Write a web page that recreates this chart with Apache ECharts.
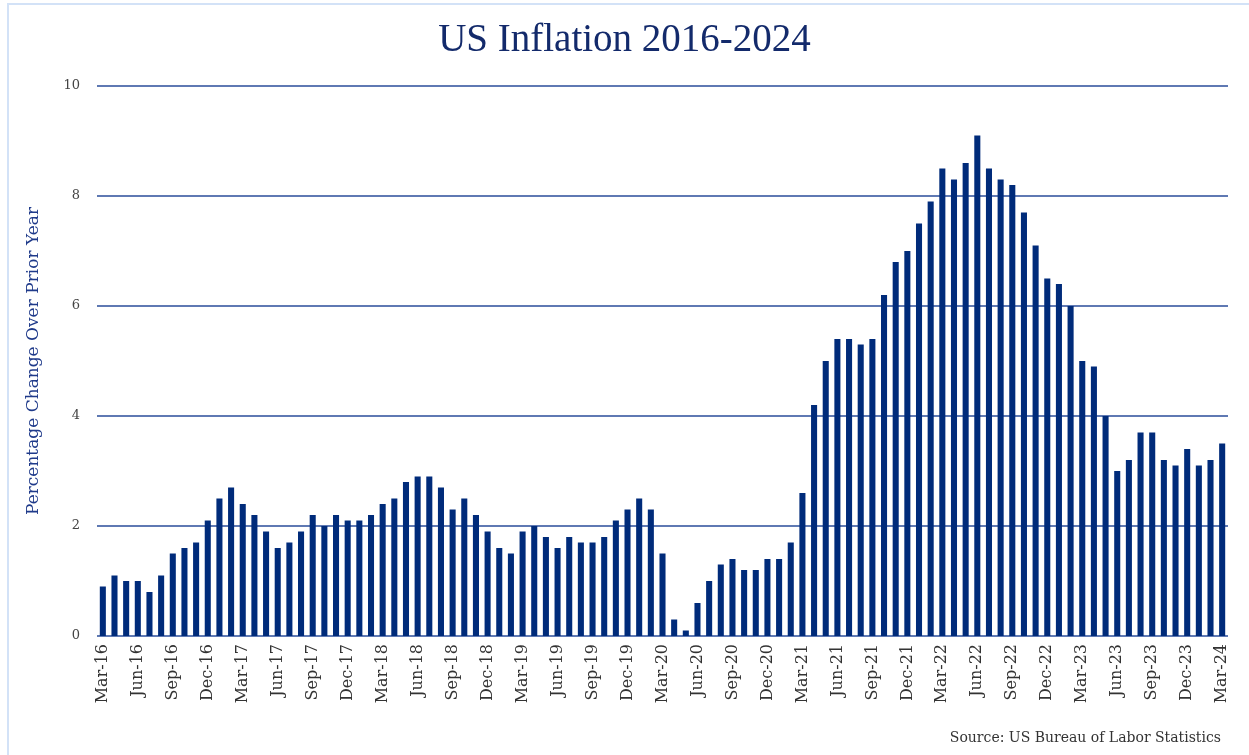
<!DOCTYPE html>
<html>
<head>
<meta charset="utf-8">
<script src="https://cdn.jsdelivr.net/npm/echarts@6/dist/echarts.min.js"></script>
<style>
html,body{margin:0;padding:0;background:#fff;}
#frame{position:absolute;left:7px;top:3px;width:1250px;height:760px;border-left:2px solid #d3e2f7;border-top:2px solid #d3e2f7;box-sizing:border-box;}
#chart{position:absolute;left:0;top:0;width:1249px;height:755px;}
</style>
</head>
<body>
<div id="frame"></div>
<div id="chart"></div>
<script>
const years = ['16','17','18','19','20','21','22','23','24'];
const monthNames = ['Jan','Feb','Mar','Apr','May','Jun','Jul','Aug','Sep','Oct','Nov','Dec'];
const categories = [];
years.forEach(function(y, yi){
  monthNames.forEach(function(m, mi){
    if (yi === 0 && mi < 2) return;
    if (y === '24' && mi > 2) return;
    categories.push(m + '-' + y);
  });
});
const inflation2016 = [0.9,1.1,1.0,1.0,0.8,1.1,1.5,1.6,1.7,2.1];
const inflation2017 = [2.5,2.7,2.4,2.2,1.9,1.6,1.7,1.9,2.2,2.0,2.2,2.1];
const inflation2018 = [2.1,2.2,2.4,2.5,2.8,2.9,2.9,2.7,2.3,2.5,2.2,1.9];
const inflation2019 = [1.6,1.5,1.9,2.0,1.8,1.6,1.8,1.7,1.7,1.8,2.1,2.3];
const inflation2020 = [2.5,2.3,1.5,0.3,0.1,0.6,1.0,1.3,1.4,1.2,1.2,1.4];
const inflation2021 = [1.4,1.7,2.6,4.2,5.0,5.4,5.4,5.3,5.4,6.2,6.8,7.0];
const inflation2022 = [7.5,7.9,8.5,8.3,8.6,9.1,8.5,8.3,8.2,7.7,7.1,6.5];
const inflation2023 = [6.4,6.0,5.0,4.9,4.0,3.0,3.2,3.7,3.7,3.2,3.1,3.4];
const inflation2024 = [3.1,3.2,3.5];
const values = [].concat(inflation2016, inflation2017, inflation2018, inflation2019,
  inflation2020, inflation2021, inflation2022, inflation2023, inflation2024);
const yTicks = [0, 2, 4, 6, 8, 10];

const chart = echarts.init(document.getElementById('chart'));
const serif = '"DejaVu Serif", "Liberation Serif", serif';
chart.setOption({
  animation: false,
  title: {
    text: 'US Inflation 2016-2024',
    left: 'center',
    top: 16,
    textStyle: { fontFamily: '"Liberation Serif", serif', fontSize: 39, fontWeight: 'normal', color: '#132a6b' }
  },
  graphic: [{
    type: 'text',
    right: 28,
    top: 731,
    style: { text: 'Source: US Bureau of Labor Statistics', font: '14px "DejaVu Serif", serif', fill: '#333' }
  }],
  grid: { left: 97, right: 21, top: 86, bottom: 119 },
  xAxis: {
    type: 'category',
    data: categories,
    axisTick: { show: false },
    axisLine: { show: false },
    axisLabel: {
      rotate: 90,
      interval: 2,
      margin: 8,
      fontFamily: serif,
      fontSize: 16,
      color: '#333'
    }
  },
  yAxis: {
    type: 'value',
    min: yTicks[0],
    max: yTicks[yTicks.length - 1],
    interval: 2,
    name: 'Percentage Change Over Prior Year',
    nameLocation: 'middle',
    nameGap: 55,
    nameTextStyle: { fontFamily: serif, fontSize: 17, color: '#1f3a8a' },
    axisLabel: { margin: 17, fontFamily: serif, fontSize: 13, color: '#444' },
    splitLine: { lineStyle: { color: '#2a4c9a', width: 1.5 } },
    axisLine: { show: false },
    axisTick: { show: false }
  },
  series: [{
    type: 'bar',
    data: values,
    barWidth: '52%',
    itemStyle: { color: '#002b7a' }
  }]
});
</script>
</body>
</html>
